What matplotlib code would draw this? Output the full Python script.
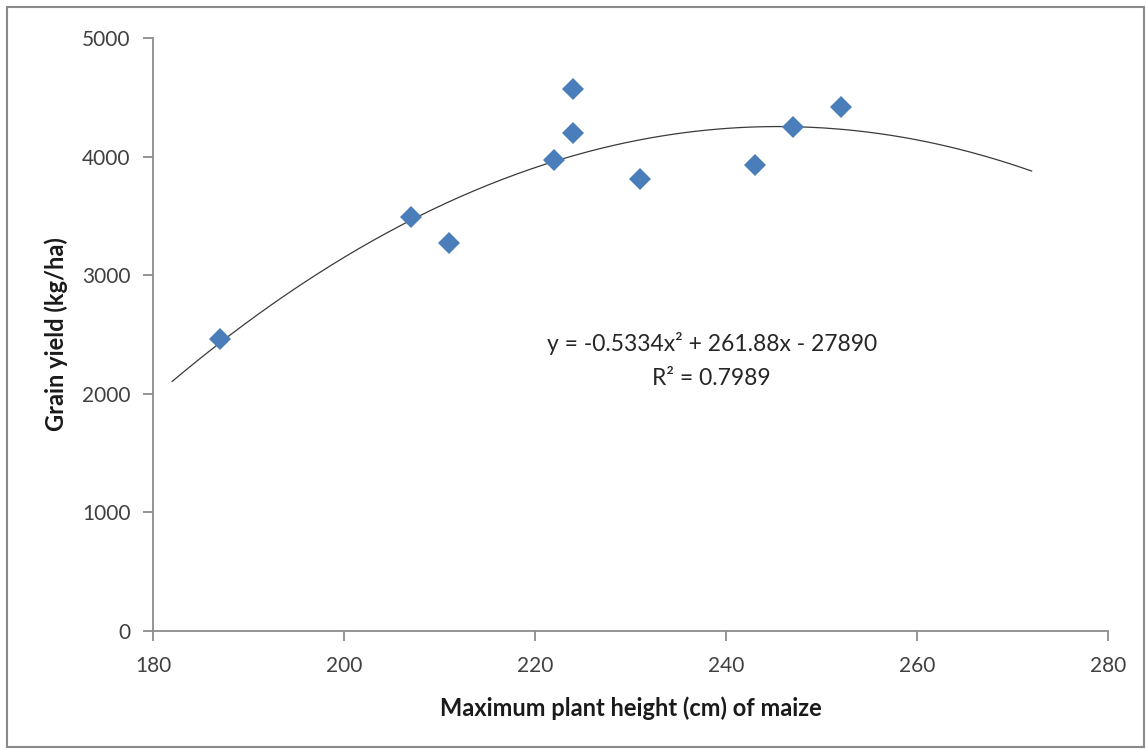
import numpy as np
import matplotlib
matplotlib.use("Agg")
import matplotlib.pyplot as plt
from matplotlib.patches import Rectangle

# ---- data ----
plant_height = [187, 207, 211, 222, 224, 224, 231, 243, 247, 252]
grain_yield = [2460, 3490, 3275, 3970, 4200, 4570, 3810, 3930, 4250, 4420]

# trendline shown in the chart: y = a x^2 + b x + c
trend_a, trend_b, trend_c = -0.5334, 261.88, -27890
trend_range = (182, 272)
equation_text = "y = -0.5334x\u00b2 + 261.88x - 27890"
r2_text = "R\u00b2 = 0.7989"

x_ticks = [180, 200, 220, 240, 260, 280]
y_ticks = [0, 1000, 2000, 3000, 4000, 5000]
x_label = "Maximum plant height (cm) of maize"
y_label = "Grain yield (kg/ha)"

# ---- plot ----
plt.rcParams['font.family'] = ['Lato', 'DejaVu Sans']
W, H = 1146, 749
fig = plt.figure(figsize=(W / 100, H / 100), dpi=100)
ax = fig.add_axes([153 / W, 1 - 631 / H, (1108 - 153) / W, (631 - 38) / H])

xs = np.linspace(trend_range[0], trend_range[1], 300)
ax.plot(xs, trend_a * xs**2 + trend_b * xs + trend_c, color='#3a3a3a', lw=0.9, zorder=2)
ax.plot(plant_height, grain_yield, linestyle='none', marker='D', markersize=11,
        color='#4a7ebb', markeredgewidth=0, zorder=3)

ax.set_xlim(x_ticks[0], x_ticks[-1])
ax.set_ylim(y_ticks[0], y_ticks[-1])
ax.set_xticks(x_ticks)
ax.set_yticks(y_ticks)

for s in ['top', 'right']:
    ax.spines[s].set_visible(False)
for s in ['left', 'bottom']:
    ax.spines[s].set_color('#8c8c8c')
    ax.spines[s].set_linewidth(1.3)
ax.tick_params(axis='both', direction='out', length=7, width=1.3, color='#8c8c8c',
               labelsize=15, labelcolor='#404040')
ax.tick_params(axis='x', pad=11)
ax.tick_params(axis='y', pad=9)

ax.set_xlabel(x_label, fontsize=17, fontweight='bold', color='#1a1a1a', labelpad=15)
ax.set_ylabel(y_label, fontsize=17, fontweight='bold', color='#1a1a1a', labelpad=10)

ax.text(0.585, 0.485, equation_text, transform=ax.transAxes, ha='center', va='center',
        fontsize=16.5, color='#262626')
ax.text(0.585, 0.425, r2_text, transform=ax.transAxes, ha='center', va='center',
        fontsize=16.5, color='#262626')

fig.patches.append(Rectangle((7 / W, 2 / H), (1144 - 7) / W, (742 - 2) / H,
                             transform=fig.transFigure, fill=False,
                             edgecolor='#8a8a8a', lw=1.5))

fig.savefig('out.png', dpi=100)
